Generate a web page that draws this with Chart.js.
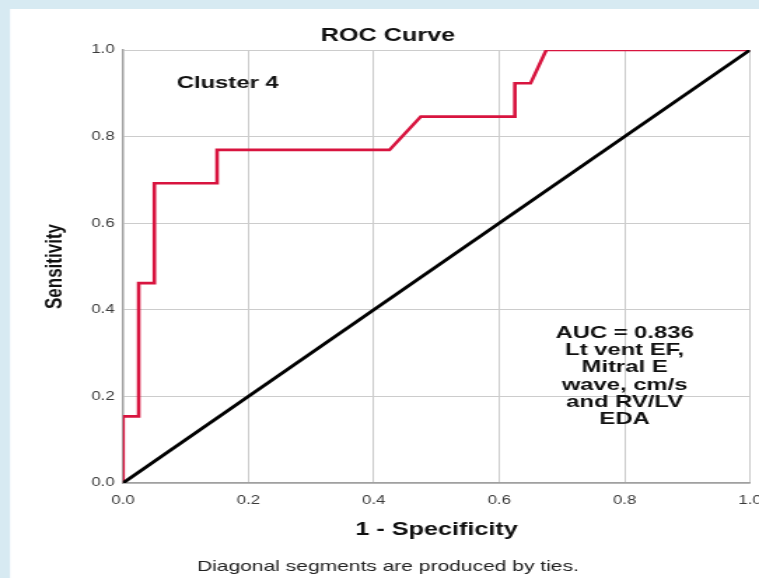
<!DOCTYPE html>
<html>
<head>
<meta charset="utf-8">
<script src="https://cdn.jsdelivr.net/npm/chart.js@4"></script>
<style>
  html, body { margin: 0; padding: 0; background: #fff; }
</style>
</head>
<body>
<!-- the reference is stretched sideways, so the canvas is drawn narrow and widened by css -->
<canvas id="roc" width="542" height="578" style="display:block;width:759px;height:578px"></canvas>
<script>
// 1 - specificity (x) and sensitivity (y) of the ROC curve
const fprValues = [0, 0, 0.025, 0.025, 0.05, 0.05, 0.15, 0.15, 0.425, 0.475, 0.625, 0.625, 0.65, 0.675, 1];
const tprValues = [0, 2/13, 2/13, 6/13, 6/13, 9/13, 9/13, 10/13, 10/13, 11/13, 11/13, 12/13, 12/13, 1, 1];
// reference line
const refX = [0, 1];
const refY = [0, 1];
const tickValues = [0, 0.2, 0.4, 0.6, 0.8, 1.0];
const tickLabels = ['0.0', '0.2', '0.4', '0.6', '0.8', '1.0'];
const clusterLabel = 'Cluster 4';
const aucLines = ['AUC = 0.836', 'Lt vent EF,', 'Mitral E', 'wave, cm/s', 'and RV/LV', 'EDA'];

const STRETCH = 759 / 542;
const FONT = "'Liberation Sans', Arial, sans-serif";

const toPoints = (xs, ys) => xs.map((x, i) => ({ x: x, y: ys[i] }));

// fond bleu clair + panneau blanc
const panelBg = {
    id: 'panelBg',
    beforeDraw(chart) {
        const ctx = chart.ctx;
        ctx.save();
        ctx.fillStyle = '#d7eaf2';
        ctx.fillRect(0, 0, chart.width, chart.height);
        ctx.fillStyle = '#ffffff';
        ctx.fillRect(10 / STRETCH, 9, chart.width, chart.height);
        ctx.restore();
    }
};

// textes dans la zone du graphique
const plotNotes = {
    id: 'plotNotes',
    afterDatasetsDraw(chart) {
        const ctx = chart.ctx;
        const xs = chart.scales.x, ys = chart.scales.y;
        ctx.save();
        ctx.fillStyle = '#111';
        ctx.textAlign = 'center';
        ctx.textBaseline = 'middle';
        ctx.font = 'bold 17px ' + FONT;
        ctx.fillText(clusterLabel, xs.getPixelForValue(0.167), ys.getPixelForValue(0.924));
        const cx = xs.getPixelForValue(0.8);
        let y = ys.getPixelForValue(0.346);
        aucLines.forEach(line => {
            ctx.fillText(line, cx, y);
            y += 17.3;
        });
        ctx.restore();
    }
};

const axisFont = { family: FONT, size: 12 };

new Chart(document.getElementById('roc'), {
    type: 'scatter',
    data: {
        datasets: [
            {
                label: 'Reference Line',
                data: toPoints(refX, refY),
                showLine: true,
                borderColor: '#000000',
                borderWidth: 2.9,
                pointRadius: 0
            },
            {
                label: 'ROC',
                data: toPoints(fprValues, tprValues),
                showLine: true,
                borderColor: '#d8143f',
                borderWidth: 2.6,
                pointRadius: 0
            }
        ]
    },
    options: {
        responsive: false,
        devicePixelRatio: 1,
        animation: false,
        layout: { padding: { left: 12, right: 0, top: 0, bottom: 0 } },
        plugins: {
            legend: { display: false },
            tooltip: { enabled: false },
            title: {
                display: true,
                text: 'ROC Curve',
                color: '#111',
                font: { family: FONT, size: 18, weight: 'bold' },
                padding: { top: 25.2, bottom: 3.2 }
            },
            subtitle: {
                display: true,
                position: 'bottom',
                text: 'Diagonal segments are produced by ties.',
                color: '#222',
                font: { family: FONT, size: 15, weight: 'normal' },
                padding: { top: 0, bottom: 2 }
            }
        },
        scales: {
            x: {
                type: 'linear',
                min: 0,
                max: 1,
                afterBuildTicks: s => { s.ticks = tickValues.map(v => ({ value: v })); },
                ticks: {
                    color: '#3a3a3a',
                    font: axisFont,
                    padding: 10,
                    maxRotation: 0,
                    callback: (v, i) => tickLabels[i]
                },
                grid: { color: '#cccccc', lineWidth: 1, drawTicks: false },
                border: { color: '#a0a0a0', width: 1.5 },
                title: {
                    display: true,
                    text: '1 - Specificity',
                    color: '#111',
                    font: { family: FONT, size: 18, weight: 'bold' },
                    padding: { top: 0, bottom: 17.2 }
                },
                afterFit: s => {
                    s.height = 75;
                    s.paddingLeft = 0;
                    s.paddingRight = 542 - 750 / STRETCH;
                }
            },
            y: {
                type: 'linear',
                min: 0,
                max: 1,
                afterBuildTicks: s => { s.ticks = tickValues.map(v => ({ value: v })); },
                ticks: {
                    color: '#3a3a3a',
                    font: axisFont,
                    padding: 6,
                    callback: (v, i) => tickLabels[i]
                },
                grid: { color: '#cccccc', lineWidth: 1, drawTicks: false },
                border: { color: '#a0a0a0', width: 1.5 },
                title: {
                    display: true,
                    text: 'Sensitivity',
                    color: '#111',
                    font: { family: FONT, size: 17, weight: 'bold' },
                    padding: { top: 17, bottom: 0 }
                },
                afterFit: s => {
                    s.width = 123 / STRETCH - 12;
                    s.paddingTop = 0;
                    s.paddingBottom = 0;
                }
            }
        }
    },
    plugins: [panelBg, plotNotes]
});
</script>
</body>
</html>
